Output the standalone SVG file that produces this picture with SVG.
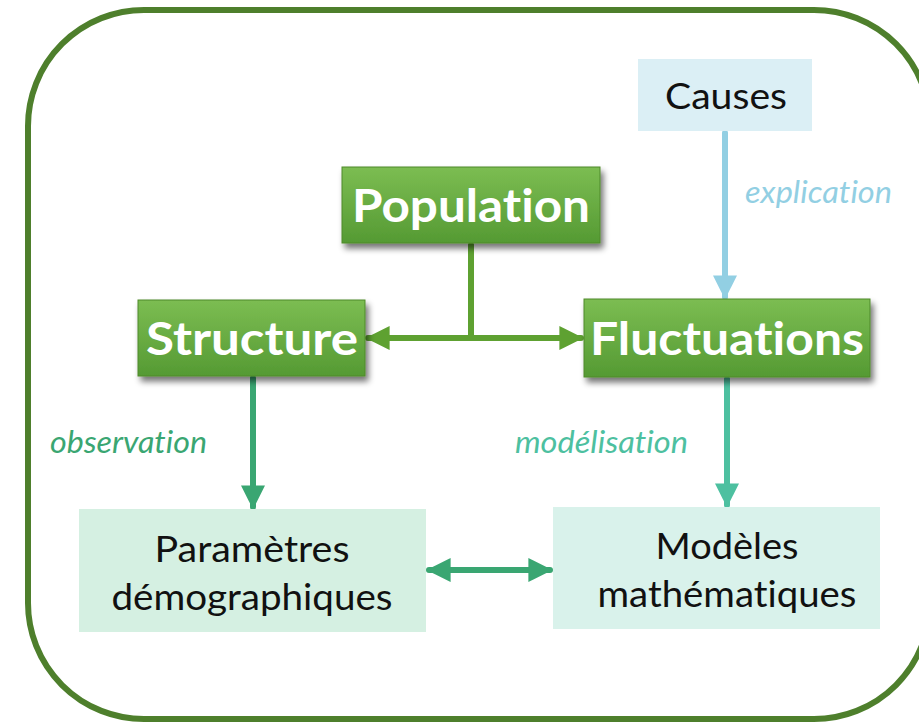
<svg xmlns="http://www.w3.org/2000/svg" width="919" height="725" viewBox="0 0 919 725">
<style>
text{font-variant-ligatures:none}
.frame{fill:#fff;stroke:#4e7f2c;stroke-width:6}
.gbox{fill:url(#gg);stroke:#4f8a2a;stroke-width:1;filter:url(#sh)}
.gtxt{font-family:Lato,"Open Sans",sans-serif;font-weight:bold;fill:#fff;text-anchor:middle;font-size:45px}
.ltxt{font-family:Lato,"Open Sans",sans-serif;fill:#111;text-anchor:middle;font-size:37px}
.lab{font-family:Lato,"Open Sans",sans-serif;font-style:italic;font-size:31px}
.c{fill:none;stroke-width:6;stroke-linecap:round}
</style>
<defs>
<linearGradient id="gg" x1="0" y1="0" x2="0" y2="1">
<stop offset="0" stop-color="#7cbd52"/>
<stop offset="1" stop-color="#559a33"/>
</linearGradient>
<filter id="sh" x="-10%" y="-20%" width="125%" height="150%">
<feGaussianBlur in="SourceAlpha" stdDeviation="3"/>
<feOffset dx="3" dy="5" result="b"/>
<feComponentTransfer><feFuncA type="linear" slope="0.55"/></feComponentTransfer>
<feMerge><feMergeNode/><feMergeNode in="SourceGraphic"/></feMerge>
</filter>
<marker id="ag" viewBox="0 0 10 10" refX="9" refY="5" markerWidth="4" markerHeight="4" orient="auto-start-reverse" markerUnits="strokeWidth"><path d="M0,0L10,5L0,10z" fill="#5ea131"/></marker>
<marker id="ab" viewBox="0 0 10 10" refX="9" refY="5" markerWidth="4" markerHeight="4" orient="auto" markerUnits="strokeWidth"><path d="M0,0L10,5L0,10z" fill="#92cfe3"/></marker>
<marker id="ao" viewBox="0 0 10 10" refX="9" refY="5" markerWidth="4" markerHeight="4" orient="auto-start-reverse" markerUnits="strokeWidth"><path d="M0,0L10,5L0,10z" fill="#3aa672"/></marker>
<marker id="at" viewBox="0 0 10 10" refX="9" refY="5" markerWidth="4" markerHeight="4" orient="auto" markerUnits="strokeWidth"><path d="M0,0L10,5L0,10z" fill="#4dc0a0"/></marker>
</defs>
<rect class="frame" x="28" y="10" width="902" height="709" rx="116"/>
<g id="connectors">
<path class="c" d="M471,245V338" stroke="#5ea131"/>
<path class="c" d="M368,338H581" stroke="#5ea131" stroke-linecap="butt" marker-start="url(#ag)" marker-end="url(#ag)"/>
<path class="c" d="M725,133V297" stroke="#92cfe3" marker-end="url(#ab)"/>
<path class="c" d="M253,378V507" stroke="#3aa672" marker-end="url(#ao)"/>
<path class="c" d="M727,379V505" stroke="#4dc0a0" marker-end="url(#at)"/>
<path class="c" d="M429,570H550" stroke="#3aa672" stroke-linecap="butt" marker-start="url(#ao)" marker-end="url(#ao)"/>
</g>
<g id="population"><rect class="gbox" x="342" y="167" width="258" height="76"/><text class="gtxt" x="471" y="222" textLength="238" lengthAdjust="spacingAndGlyphs">Population</text></g>
<g id="structure"><rect class="gbox" x="138" y="300" width="227" height="76"/><text class="gtxt" x="252" y="355" textLength="212" lengthAdjust="spacingAndGlyphs">Structure</text></g>
<g id="fluctuations"><rect class="gbox" x="584" y="299" width="286" height="78"/><text class="gtxt" x="727" y="355" textLength="274" lengthAdjust="spacingAndGlyphs">Fluctuations</text></g>
<g id="causes"><rect x="638" y="59" width="174" height="72" fill="#dbeff5"/><text class="ltxt" x="726" y="109" textLength="122" lengthAdjust="spacingAndGlyphs">Causes</text></g>
<g id="parametres"><rect x="79" y="509" width="347" height="123" fill="#d5f0e2"/><text class="ltxt" x="252" y="562" textLength="195" lengthAdjust="spacingAndGlyphs">Paramètres</text><text class="ltxt" x="252" y="610" textLength="281" lengthAdjust="spacingAndGlyphs">démographiques</text></g>
<g id="modeles"><rect x="553" y="507" width="327" height="122" fill="#d9f2eb"/><text class="ltxt" x="727" y="559" textLength="143" lengthAdjust="spacingAndGlyphs">Modèles</text><text class="ltxt" x="727" y="607" textLength="259" lengthAdjust="spacingAndGlyphs">mathématiques</text></g>
<g id="labels">
<text class="lab" x="745" y="203" fill="#92cfe3" textLength="147" lengthAdjust="spacingAndGlyphs">explication</text>
<text class="lab" x="50" y="453" fill="#3aa672" textLength="157" lengthAdjust="spacingAndGlyphs">observation</text>
<text class="lab" x="515" y="453" fill="#4dc0a0" textLength="173" lengthAdjust="spacingAndGlyphs">modélisation</text>
</g>
</svg>
